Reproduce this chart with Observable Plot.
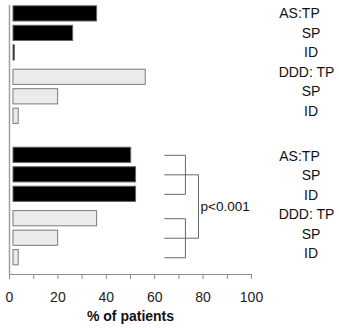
<!DOCTYPE html>
<html>
<head>
<meta charset="utf-8">
<script src="https://cdn.jsdelivr.net/npm/d3@7"></script>
<script src="https://cdn.jsdelivr.net/npm/@observablehq/plot@0.6"></script>
<style>
  html, body { margin: 0; padding: 0; background: #fff; }
  #chart svg { display: block; font-family: "Liberation Sans", Arial, sans-serif; }
</style>
</head>
<body>
<div id="chart"></div>
<script>
// ---- data ----
const panels = ["Panel 1", "Panel 2"];
const series = ["AS", "DDD"];
const categories = ["TP", "SP", "ID"];
const rowLabels = ["AS:TP", "SP", "ID", "DDD: TP", "SP", "ID"];
const panel1AS = [36.2, 26.3, 2.2];
const panel1DDD = [56.3, 20.1, 3.8];
const panel2AS = [50.3, 52.3, 52.3];
const panel2DDD = [36.2, 20.1, 3.8];
const xTicks = [0, 10, 20, 30, 40, 50, 60, 70, 80, 90, 100];
const xTickLabels = ["0", "", "20", "", "40", "", "60", "", "80", "", "100"];
const pLabel = "p<0.001";
const xTitle = "% of patients";

// ---- layout (slot units along y) ----
const panelStep = 7.25, seriesStep = 3.25, labelPanelStep = 7.3;
const barHalf = 0.39;
const yDomain = [-0.43, 13.36];
const bracket = {start: 64, inner: 72.7, outer: 78.1};

const valuesBy = [[panel1AS, panel1DDD], [panel2AS, panel2DDD]];
const rows = [];
panels.forEach((p, g) => series.forEach((s, si) => categories.forEach((c, ci) => {
  const pos = g * panelStep + si * seriesStep + ci;
  rows.push({
    panel: p, series: s, category: c, value: valuesBy[g][si][ci],
    pos, y1: pos - barHalf, y2: pos + barHalf,
    label: rowLabels[si * 3 + ci],
    labelPos: g * labelPanelStep + si * 3 + ci
  });
})));

// brackets (panel 2)
const p2 = rows.filter(d => d.panel === panels[1]);
const posOf = (s, c) => p2.find(d => d.series === s && d.category === c).pos;
const bracketLinks = [];
series.forEach(s => {
  categories.forEach(c => {
    bracketLinks.push({x1: bracket.start, x2: c === "SP" ? bracket.outer : bracket.inner, y1: posOf(s, c), y2: posOf(s, c)});
  });
  bracketLinks.push({x1: bracket.inner, x2: bracket.inner, y1: posOf(s, "TP"), y2: posOf(s, "ID")});
});
bracketLinks.push({x1: bracket.outer, x2: bracket.outer, y1: posOf("AS", "SP"), y2: posOf("DDD", "SP")});
const pY = (posOf("AS", "SP") + posOf("DDD", "SP")) / 2;

const chart = Plot.plot({
  width: 339,
  height: 329,
  marginLeft: 9,
  marginRight: 88,
  marginTop: 5,
  marginBottom: 55,
  style: {fontFamily: "Liberation Sans, Arial, sans-serif", background: "#fff"},
  x: {domain: [0, 100], axis: null},
  y: {domain: yDomain, reverse: true, axis: null},
  marks: [
    Plot.rectX(rows, {
      x1: 0, x2: "value", y1: "y1", y2: "y2", insetLeft: 4,
      fill: d => d.series === "AS" ? "#000000" : "#ebebeb",
      stroke: d => d.series === "AS" ? "#666666" : "#7a7a7a",
      strokeWidth: 1
    }),
    Plot.ruleX([0], {stroke: "#a0a0a0", strokeWidth: 1.5}),
    Plot.ruleY([yDomain[1]], {stroke: "#8c8c8c", strokeWidth: 1}),
    Plot.axisX({
      ticks: xTicks, tickSize: 5, tickPadding: 13,
      tickFormat: (d) => xTickLabels[xTicks.indexOf(d)],
      stroke: "#8c8c8c", fill: "#222", fontSize: 14, label: null
    }),
    Plot.text([xTitle], {frameAnchor: "bottom", dy: 46, fontWeight: "bold", fontSize: 14, fill: "#111"}),
    Plot.link(bracketLinks, {x1: "x1", x2: "x2", y1: "y1", y2: "y2", stroke: "#666", strokeWidth: 1}),
    Plot.text([pLabel], {x: bracket.outer, y: pY, textAnchor: "start", dx: 2, fontSize: 13.5, fill: "#111"}),
    Plot.text(rows.filter(d => d.label === "AS:TP"), {y: "labelPos", text: "label", frameAnchor: "right", textAnchor: "middle", dx: 48, fontSize: 14, fill: "#111"}),
    Plot.text(rows.filter(d => d.label === "DDD: TP"), {y: "labelPos", text: "label", frameAnchor: "right", textAnchor: "middle", dx: 55, fontSize: 14, fill: "#111"}),
    Plot.text(rows.filter(d => d.category !== "TP"), {y: "labelPos", text: "label", frameAnchor: "right", textAnchor: "middle", dx: 59.5, fontSize: 14, fill: "#111"})
  ]
});
document.getElementById("chart").appendChild(chart);
</script>
</body>
</html>
